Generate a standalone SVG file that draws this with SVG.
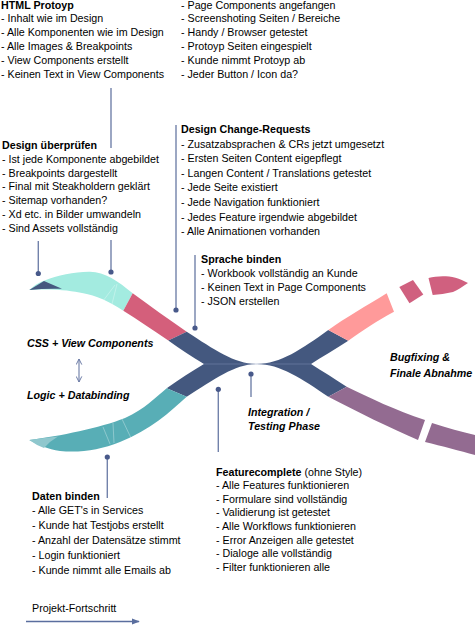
<svg xmlns="http://www.w3.org/2000/svg" width="475" height="625" viewBox="0 0 475 625">
<style>
.t{font-family:"Liberation Sans",Arial,sans-serif;font-size:10.7px;fill:#000}
.b{font-weight:bold}
.i{font-family:"Liberation Sans",Arial,sans-serif;font-size:10.7px;font-weight:bold;font-style:italic;fill:#000}
.ln{stroke:#7282aa;stroke-width:1.4;fill:none}
.dot{fill:#48598a}
</style>
<defs>
<marker id="ah" viewBox="0 0 10 10" refX="9" refY="5" markerWidth="7" markerHeight="7" orient="auto-start-reverse" markerUnits="userSpaceOnUse">
<path d="M1,1 L9,5 L1,9" fill="none" stroke="#6a7aa5" stroke-width="1.4"/>
</marker>
<marker id="af" viewBox="0 0 10 10" refX="9" refY="5" markerWidth="8" markerHeight="8" orient="auto" markerUnits="userSpaceOnUse">
<path d="M0,1 L10,5 L0,9 Z" fill="#5a6e9e"/>
</marker>
</defs>
<rect width="475" height="625" fill="#fff"/>

<g id="ribbon">
<path d="M29.3,290 C36,284 40,282 44,280.7 C58,275 75,271.5 90,271.7 C105,272 118,281 132.7,293.3 L123.3,310.7 C110,302 95,295 83.3,293.3 C70,290.5 55,288.5 29.3,290 Z" fill="#a3ebe0"/>
<path d="M29.3,290 L44,281 Q52,284.5 62,288.8 Q45,288.3 29.3,290 Z" fill="#44587f"/>
<path d="M132.7,293.3 C150,306 168,319 186.7,331.7 L168.3,340.5 C153,330 138,320 123.3,310.7 Z" fill="#d45f7b"/>
<path d="M186.7,331.7 C215,350 235,364 257,364 C280,364 302,349 328.3,330 L348.3,340.7 C335,349 322,357 311,364 C322,371 335,379 346.7,386.7 L328.3,396.7 C302,379 280,364 257,364 C235,364 215,379 186.7,396.7 L166.7,388.3 C180,379 192,371 204,364 C192,357 180,349 168.3,340.5 Z" fill="#44587f"/>
<path d="M29.3,440 C60,436 100,428 125,418 C145,409 156,397 166.7,388.3 L186.7,396.7 C170,412 150,430 120,442 C100,450 80,453 60,451 C48,449 38,445 29.3,440 Z" fill="#58aeb6"/>
<path d="M29.3,440 Q45,437.5 58,436.5 Q50,441 44,448 Q36,445 29.3,440 Z" fill="#8fc7cd"/>
<path d="M328.3,330 C345,318 368,305 386.7,293.3 L394,311.7 C378,320 362,331 348.3,340.7 Z" fill="#ff9a9a"/>
<path d="M399.3,287 L413,280 L423.3,294.5 L409.5,303.3 Z" fill="#d0607f"/>
<path d="M428.5,278 C440,275 455,275 468,283 C462,287 458,290 453,292 C446,293.5 439,294.5 432.7,295 Z" fill="#d0607f"/>
<path d="M346.7,386.7 C370,398 395,410 425,420 L418,440 C390,428 358,412 328.3,396.7 Z" fill="#936b91"/>
<path d="M432,423 C447,428 462,432 475,435 L475,455 C460,451 442,446 425,442 Z" fill="#936b91"/>
<g stroke="#ffffff" stroke-opacity="0.45" stroke-width="0.7" fill="none">
<path d="M115,285 L103,301"/><path d="M117,284 L112,304"/>
<path d="M103,427 L110,444"/><path d="M113,423 L114,443"/><path d="M122,419 L131,438"/>
</g>
<path d="M204,364 L311,364" stroke="#7f8fb5" stroke-width="0.7" stroke-opacity="0.7"/>
</g>

<g id="connectors">
<path class="ln" d="M111,88 V148 M111,240 V272"/>
<circle class="dot" cx="111" cy="272" r="2.6"/>
<path class="ln" d="M38.3,241 V273.5"/>
<circle class="dot" cx="38.3" cy="273.5" r="2.6"/>
<path class="ln" d="M176,125 V310"/>
<circle class="dot" cx="176" cy="310" r="2.6"/>
<path class="ln" d="M195,255 V328"/>
<circle class="dot" cx="195" cy="328" r="2.6"/>
<path class="ln" d="M251,374 V397"/>
<circle class="dot" cx="251" cy="374" r="2.6"/>
<path class="ln" d="M218.3,389.3 V452"/>
<circle class="dot" cx="218.3" cy="389.3" r="2.6"/>
<path class="ln" d="M107.3,457 V498"/>
<circle class="dot" cx="107.3" cy="457" r="2.6"/>
<path d="M79,359 V382" stroke="#6a7aa5" stroke-width="1.1" marker-start="url(#ah)" marker-end="url(#ah)"/>
<path d="M26,621.5 H139" stroke="#5a6e9e" stroke-width="1.5" marker-end="url(#af)"/>
</g>

<g id="html-protoyp" class="t">
<text x="1" y="8.5" class="b">HTML Protoyp</text>
<text x="1" y="22.3">- Inhalt wie im Design</text>
<text x="1" y="36.1">- Alle Komponenten wie im Design</text>
<text x="1" y="49.9">- Alle Images &amp; Breakpoints</text>
<text x="1" y="63.7">- View Components erstellt</text>
<text x="1" y="77.5">- Keinen Text in View Components</text>
</g>

<g id="protoyp-2" class="t">
<text x="181" y="8.5">- Page Components angefangen</text>
<text x="181" y="22.3">- Screenshoting Seiten / Bereiche</text>
<text x="181" y="36.1">- Handy / Browser getestet</text>
<text x="181" y="49.9">- Protoyp Seiten eingespielt</text>
<text x="181" y="63.7">- Kunde nimmt Protoyp ab</text>
<text x="181" y="77.5">- Jeder Button / Icon da?</text>
</g>

<g id="design-pruefen" class="t">
<text x="2" y="149" class="b">Design überprüfen</text>
<text x="2" y="162.8">- Ist jede Komponente abgebildet</text>
<text x="2" y="176.6">- Breakpoints dargestellt</text>
<text x="2" y="190.4">- Final mit Steakholdern geklärt</text>
<text x="2" y="204.2">- Sitemap vorhanden?</text>
<text x="2" y="218">- Xd etc. in Bilder umwandeln</text>
<text x="2" y="231.8">- Sind Assets vollständig</text>
</g>

<g id="design-cr" class="t">
<text x="181" y="133" class="b">Design Change-Requests</text>
<text x="181" y="147.6">- Zusatzabsprachen &amp; CRs jetzt umgesetzt</text>
<text x="181" y="162.2">- Ersten Seiten Content eigepflegt</text>
<text x="181" y="176.8">- Langen Content / Translations getestet</text>
<text x="181" y="191.4">- Jede Seite existiert</text>
<text x="181" y="206">- Jede Navigation funktioniert</text>
<text x="181" y="220.6">- Jedes Feature irgendwie abgebildet</text>
<text x="181" y="235.2">- Alle Animationen vorhanden</text>
</g>

<g id="sprache" class="t">
<text x="201" y="263" class="b">Sprache binden</text>
<text x="201" y="277">- Workbook vollständig an Kunde</text>
<text x="201" y="291">- Keinen Text in Page Components</text>
<text x="201" y="305">- JSON erstellen</text>
</g>

<g id="css-view">
<text x="27" y="347" class="i">CSS + View Components</text>
</g>
<g id="logic">
<text x="27" y="399" class="i">Logic + Databinding</text>
</g>
<g id="bugfixing">
<text x="390" y="361" class="i">Bugfixing &amp;</text>
<text x="390" y="377" class="i">Finale Abnahme</text>
</g>
<g id="integration">
<text x="248" y="416" class="i">Integration /</text>
<text x="248" y="430" class="i">Testing Phase</text>
</g>

<g id="featurecomplete" class="t">
<text x="216" y="475.5"><tspan class="b">Featurecomplete</tspan> (ohne Style)</text>
<text x="216" y="489.1">- Alle Features funktionieren</text>
<text x="216" y="502.7">- Formulare sind vollständig</text>
<text x="216" y="516.3">- Validierung ist getestet</text>
<text x="216" y="529.9">- Alle Workflows funktionieren</text>
<text x="216" y="543.5">- Error Anzeigen alle getestet</text>
<text x="216" y="557.1">- Dialoge alle vollständig</text>
<text x="216" y="570.7">- Filter funktionieren alle</text>
</g>

<g id="daten-binden" class="t">
<text x="32" y="499.5" class="b">Daten binden</text>
<text x="32" y="514.3">- Alle GET's in Services</text>
<text x="32" y="529.1">- Kunde hat Testjobs erstellt</text>
<text x="32" y="543.9">- Anzahl der Datensätze stimmt</text>
<text x="32" y="558.7">- Login funktioniert</text>
<text x="32" y="573.5">- Kunde nimmt alle Emails ab</text>
</g>

<g id="fortschritt" class="t">
<text x="32" y="612">Projekt-Fortschritt</text>
</g>
</svg>
